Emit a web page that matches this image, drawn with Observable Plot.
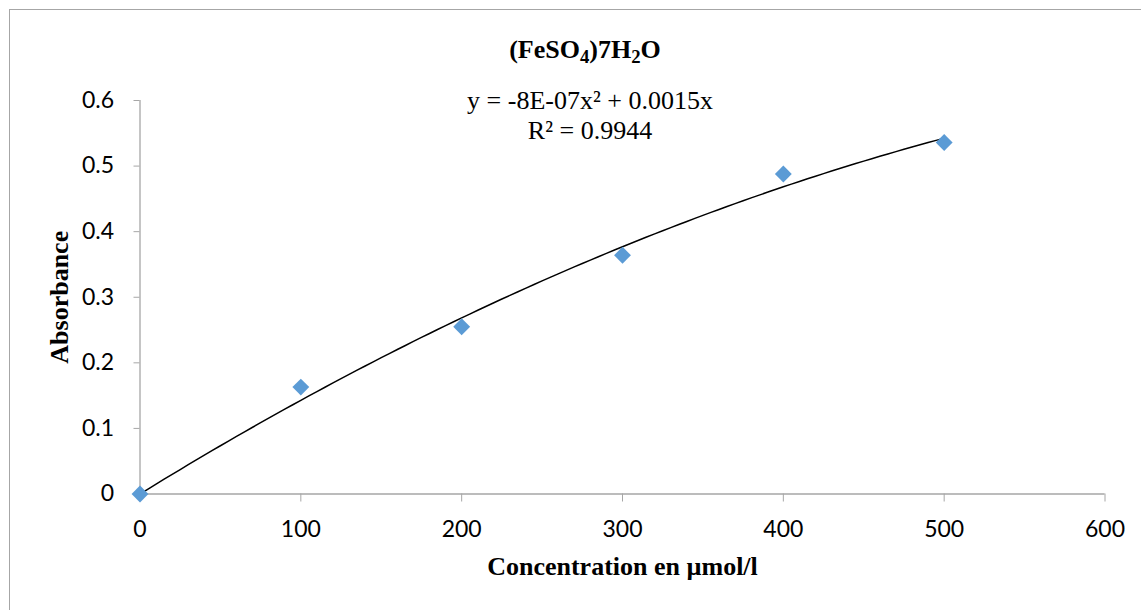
<!DOCTYPE html>
<html><head><meta charset="utf-8">
<script src="https://cdn.jsdelivr.net/npm/d3@7"></script>
<script src="https://cdn.jsdelivr.net/npm/@observablehq/plot@0.6"></script>
<style>
body{margin:0;background:#fff}
#wrap{position:relative;width:1141px;height:610px;overflow:hidden;background:#fff}
#border{position:absolute;left:9px;top:9px;width:1200px;height:700px;border:1.5px solid #a6a6a6;box-sizing:border-box;pointer-events:none}
#title{position:absolute;left:0;width:1170px;top:38px;text-align:center;font:bold 26px "Liberation Serif";line-height:24px;color:#000}
#title sub{font-size:72%;vertical-align:-0.28em;line-height:0}
#eq{position:absolute;left:0;width:1180px;top:86px;text-align:center;font:26px "Liberation Serif";line-height:30px;color:#000}
#chart{position:absolute;left:0;top:0}
</style></head>
<body>
<div id="wrap">
  <div id="chart"></div>
  <div id="title">(FeSO<sub>4</sub>)7H<sub>2</sub>O</div>
  <div id="eq">y = -8E-07x² + 0.0015x<br>R² = 0.9944</div>
  <div id="border"></div>
</div>
<script>
// Data
const concentration = [0, 100, 200, 300, 400, 500];
const absorbance = [0, 0.163, 0.255, 0.364, 0.488, 0.536];
const xTicks = [0, 100, 200, 300, 400, 500, 600];
const yTicks = [0, 0.1, 0.2, 0.3, 0.4, 0.5, 0.6];
const yTickLabels = ["0", "0.1", "0.2", "0.3", "0.4", "0.5", "0.6"];
const xLabel = "Concentration en µmol/l";
const yLabel = "Absorbance";

const points = concentration.map((c, i) => ({x: c, y: absorbance[i]}));

// Polynomial (order 2) trendline through origin, least-squares fit of the data
let s4 = 0, s3 = 0, s2 = 0, s2y = 0, s1y = 0;
for (const p of points) {
  s4 += p.x ** 4; s3 += p.x ** 3; s2 += p.x ** 2;
  s2y += p.x ** 2 * p.y; s1y += p.x * p.y;
}
const det = s4 * s2 - s3 * s3;
const a = (s2y * s2 - s3 * s1y) / det;
const b = (s4 * s1y - s3 * s2y) / det;
const trend = d3.range(0, 501, 5).map(x => ({x, y: a * x * x + b * x}));

const axisGray = "#a6a6a6";
const plot = Plot.plot({
  width: 1141,
  height: 610,
  marginLeft: 139.5,
  marginRight: 36.5,
  marginTop: 100,
  marginBottom: 116.5,
  style: {fontFamily: "Lato", fontSize: "23px", color: "#000", background: "transparent"},
  x: {domain: [0, 600]},
  y: {domain: [0, 0.6]},
  marks: [
    Plot.ruleY([0], {stroke: axisGray, strokeWidth: 1.3}),
    Plot.ruleX([0], {stroke: axisGray, strokeWidth: 1.3}),
    Plot.axisX({ticks: xTicks, tickSize: 8, tickPadding: 19, stroke: axisGray, fill: "#000", label: null, fontSize: 23, fontFamily: "Lato"}),
    Plot.axisY({ticks: yTicks, tickFormat: (d) => yTickLabels[yTicks.indexOf(d)], tickSize: 6, tickPadding: 20, stroke: axisGray, fill: "#000", label: null, fontSize: 23, fontFamily: "Lato"}),
    Plot.line(trend, {x: "x", y: "y", stroke: "#000", strokeWidth: 1.5}),
    Plot.dot(points, {x: "x", y: "y", symbol: "diamond2", r: 7.6, fill: "#5b9bd5", stroke: "none"}),
    Plot.text([xLabel], {text: d => d, frameAnchor: "bottom", dy: 73, textAnchor: "middle", lineAnchor: "middle", fontFamily: "Liberation Serif", fontWeight: "bold", fontSize: 26}),
    Plot.text([yLabel], {text: d => d, frameAnchor: "left", dx: -80, rotate: -90, textAnchor: "middle", lineAnchor: "middle", fontFamily: "Liberation Serif", fontWeight: "bold", fontSize: 26})
  ]
});
document.getElementById("chart").appendChild(plot);
</script>
</body></html>
